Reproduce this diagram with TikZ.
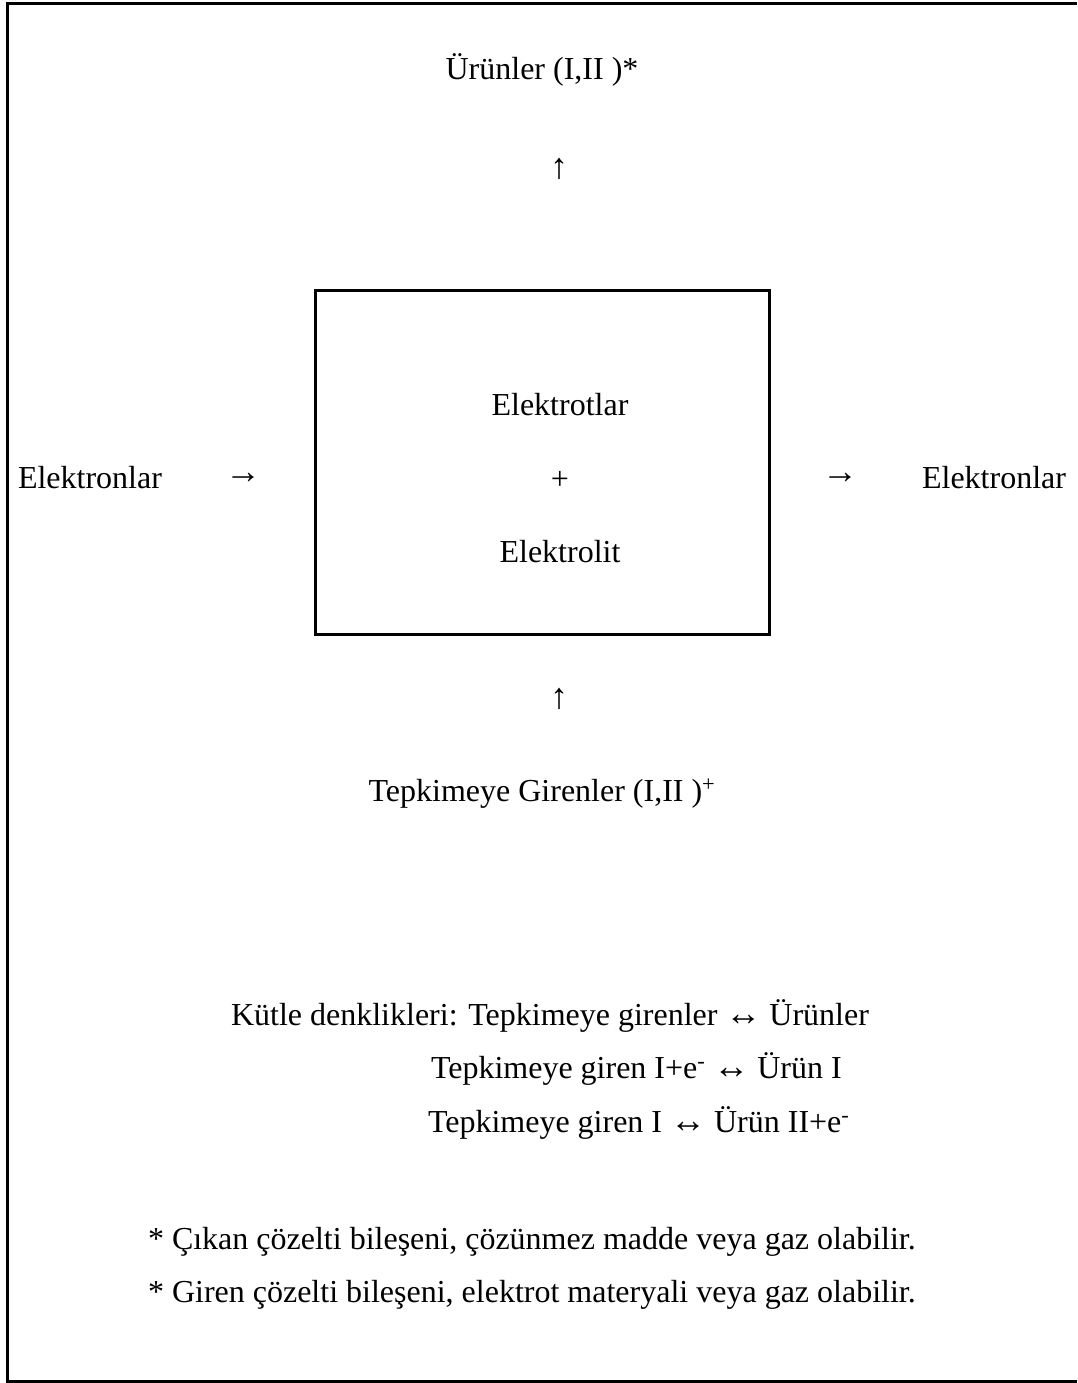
\documentclass[tikz,border=0pt]{standalone}
\usepackage{fontspec}
\setmainfont{Liberation Serif}
\newcommand\myarr[1]{{\fontsize{36}{38}\selectfont #1}}
\begin{document}
\begin{tikzpicture}[x=1pt,y=-1pt,
  txt/.style={inner sep=0pt, outer sep=0pt, font=\fontsize{32}{38}\selectfont},
  frame/.style={line width=3pt},
  cellbox/.style={draw, line width=3pt, inner sep=0pt, minimum width=454pt, minimum height=344pt}]
\useasboundingbox (0,0) rectangle (1077,1383);
% outer frame (right edge lies outside the picture)
\draw[frame] (1077,4) -- (7,4) -- (7,1381) -- (1077,1381);
% central box
\node[cellbox] (box) at (542.5,462) {};
\node[txt, anchor=base] (elektrotlar) at (560,415) {Elektrotlar};
\node[txt] (plus) at (560,480) {+};
\node[txt, anchor=base] (elektrolit) at (560,562) {Elektrolit};
% top
\node[txt, anchor=base] (urunler) at (542,80) {Ürünler (I,II )*};
\node[txt] (uparrowtop) at (559,169) {\myarr{↑}};
% bottom
\node[txt] (uparrowbot) at (559,699) {\myarr{↑}};
\node[txt, anchor=base] (girenler) at (542,801) {Tepkimeye Girenler (I,II )\textsuperscript{+}};
% left / right
\node[txt, anchor=base west] (elL) at (18,488) {Elektronlar};
\node[txt] (arrL) at (243,478) {\myarr{→}};
\node[txt] (arrR) at (840,478) {\myarr{→}};
\node[txt, anchor=base east] (elR) at (1066,488) {Elektronlar};
% mass balances
\node[txt, anchor=base west] (kutle) at (231,1025) {Kütle denklikleri: Tepkimeye girenler \myarr{↔} Ürünler};
\node[txt, anchor=base west] (eq1) at (431,1078) {Tepkimeye giren I+e\textsuperscript{-} \myarr{↔} Ürün I};
\node[txt, anchor=base west] (eq2) at (428,1132) {Tepkimeye giren I \myarr{↔} Ürün II+e\textsuperscript{-}};
% notes
\node[txt, anchor=base west] (note1) at (148,1249) {* Çıkan çözelti bileşeni, çözünmez madde veya gaz olabilir.};
\node[txt, anchor=base west] (note2) at (148,1302) {* Giren çözelti bileşeni, elektrot materyali veya gaz olabilir.};
\end{tikzpicture}
\end{document}
